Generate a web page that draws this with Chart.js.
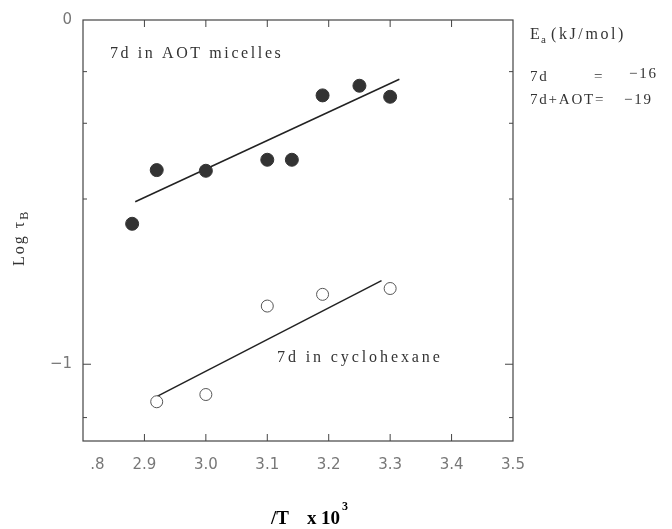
<!DOCTYPE html>
<html>
<head>
<meta charset="utf-8">
<script src="https://cdn.jsdelivr.net/npm/chart.js@4.4.1/dist/chart.umd.min.js"></script>
<style>
  html, body { margin: 0; padding: 0; background: #fff; }
  #wrap { width: 672px; height: 529px; position: relative; }
</style>
</head>
<body>
<div id="wrap"><canvas id="chart" width="672" height="529"></canvas></div>
<script>
// values
const aotX = [2.88, 2.92, 3.00, 3.10, 3.14, 3.19, 3.25, 3.30];
const aotY = [-0.592, -0.436, -0.438, -0.406, -0.406, -0.219, -0.191, -0.223];
const cycX = [2.92, 3.00, 3.10, 3.19, 3.30];
const cycY = [-1.109, -1.088, -0.831, -0.797, -0.780];
// fitted lines (end points)
const aotFitX = [2.885, 3.315];
const aotFitY = [-0.528, -0.172];
const cycFitX = [2.919, 3.286];
const cycFitY = [-1.095, -0.757];

const xTicks = [2.8, 2.9, 3.0, 3.1, 3.2, 3.3, 3.4, 3.5];
const yTicks = [0, -0.15, -0.3, -0.52, -1, -1.155];
const yLabelled = [0, -1];

const toPts = (xs, ys) => xs.map((x, i) => ({ x: x, y: ys[i] }));

const serif = '"Liberation Serif", "DejaVu Serif", serif';

// box, inward ticks and texts
const decor = {
  id: 'decor',
  afterDraw(chart) {
    const c = chart.ctx;
    const a = chart.chartArea;
    const xs = chart.scales.x, ys = chart.scales.y;
    c.save();
    c.strokeStyle = '#444';
    c.lineWidth = 1.2;
    c.strokeRect(a.left, a.top, a.right - a.left, a.bottom - a.top);
    c.lineWidth = 1;
    xTicks.forEach(v => {
      const px = xs.getPixelForValue(v);
      if (v <= 2.8 || v >= 3.5) return;
      c.beginPath();
      c.moveTo(px, a.bottom); c.lineTo(px, a.bottom - 7);
      c.moveTo(px, a.top); c.lineTo(px, a.top + 7);
      c.stroke();
    });
    yTicks.forEach(v => {
      const py = ys.getPixelForValue(v);
      if (v === 0) return;
      c.beginPath();
      c.moveTo(a.left, py); c.lineTo(a.left + (v === -1 ? 8 : 4), py);
      c.moveTo(a.right, py); c.lineTo(a.right - (v === -1 ? 8 : 4), py);
      c.stroke();
    });

    c.fillStyle = '#333';
    c.textBaseline = 'alphabetic';
    c.textAlign = 'left';
    c.font = '16px ' + serif;
    c.letterSpacing = '2.6px';
    c.fillText('7d in AOT micelles', 110, 58);
    c.letterSpacing = '2.9px';
    c.fillText('7d in cyclohexane', 277, 362);

    // right side note
    c.letterSpacing = '2.6px';
    c.font = '16px ' + serif;
    c.fillText('E', 530, 39);
    c.font = '11px ' + serif;
    c.fillText('a', 541, 43);
    c.font = '16px ' + serif;
    c.fillText('(kJ/mol)', 551, 39);
    c.letterSpacing = '1.8px';
    c.font = '15px ' + serif;
    c.fillText('7d', 530, 81);
    c.fillText('=', 594, 81);
    c.fillText('\u221216', 629, 78);
    c.fillText('7d+AOT=', 530, 104);
    c.fillText('\u221219', 624, 104);

    // y title: Log tau_B
    c.save();
    c.translate(24, 266);
    c.rotate(-Math.PI / 2);
    c.letterSpacing = '2px';
    c.font = '16px ' + serif;
    c.fillText('Log \u03c4', 0, 0);
    const w = c.measureText('Log \u03c4').width;
    c.font = '12px ' + serif;
    c.fillText('B', w, 4);
    c.restore();

    // x title
    c.fillStyle = '#000';
    c.letterSpacing = '0px';
    c.font = 'bold 19px ' + serif;
    c.fillText('/T', 271, 524);
    c.fillText('x', 307, 524);
    c.fillText('10', 321, 524);
    c.font = 'bold 12px ' + serif;
    c.fillText('3', 342, 510);
    c.restore();
  }
};

new Chart(document.getElementById('chart').getContext('2d'), {
  type: 'scatter',
  data: {
    datasets: [
      {
        label: '7d in AOT micelles',
        data: toPts(aotX, aotY),
        pointRadius: 6.5,
        pointBackgroundColor: '#333',
        pointBorderColor: '#333',
        pointBorderWidth: 1
      },
      {
        label: '7d in cyclohexane',
        data: toPts(cycX, cycY),
        pointRadius: 6,
        pointBackgroundColor: '#fff',
        pointBorderColor: '#555',
        pointBorderWidth: 1
      },
      {
        label: 'AOT fit',
        data: toPts(aotFitX, aotFitY),
        showLine: true,
        pointRadius: 0,
        borderColor: '#222',
        borderWidth: 1.5
      },
      {
        label: 'cyclohexane fit',
        data: toPts(cycFitX, cycFitY),
        showLine: true,
        pointRadius: 0,
        borderColor: '#222',
        borderWidth: 1.5
      }
    ]
  },
  options: {
    responsive: false,
    animation: false,
    layout: { padding: { left: 0, right: 159, top: 19, bottom: 0 } },
    plugins: { legend: { display: false }, tooltip: { enabled: false } },
    scales: {
      x: {
        type: 'linear',
        min: 2.8,
        max: 3.5,
        afterBuildTicks: s => { s.ticks = xTicks.map(v => ({ value: v })); },
        afterFit: s => { s.height = 88; },
        grid: { display: false, drawTicks: false },
        border: { display: false },
        ticks: {
          padding: 15,
          color: '#777',
          font: { family: '"DejaVu Sans", sans-serif', size: 15 },
          callback: v => v === 2.8 ? '      .8' : v.toFixed(1)
        }
      },
      y: {
        type: 'linear',
        min: -1.223,
        max: 0,
        afterBuildTicks: s => { s.ticks = yTicks.map(v => ({ value: v })); },
        afterFit: s => { s.width = 83; },
        grid: { display: false, drawTicks: false },
        border: { display: false },
        ticks: {
          padding: 11,
          color: '#777',
          font: { family: '"DejaVu Sans", sans-serif', size: 15 },
          callback: v => yLabelled.includes(v) ? (v === 0 ? '0' : '\u22121') : ''
        }
      }
    }
  },
  plugins: [decor]
});
</script>
</body>
</html>
